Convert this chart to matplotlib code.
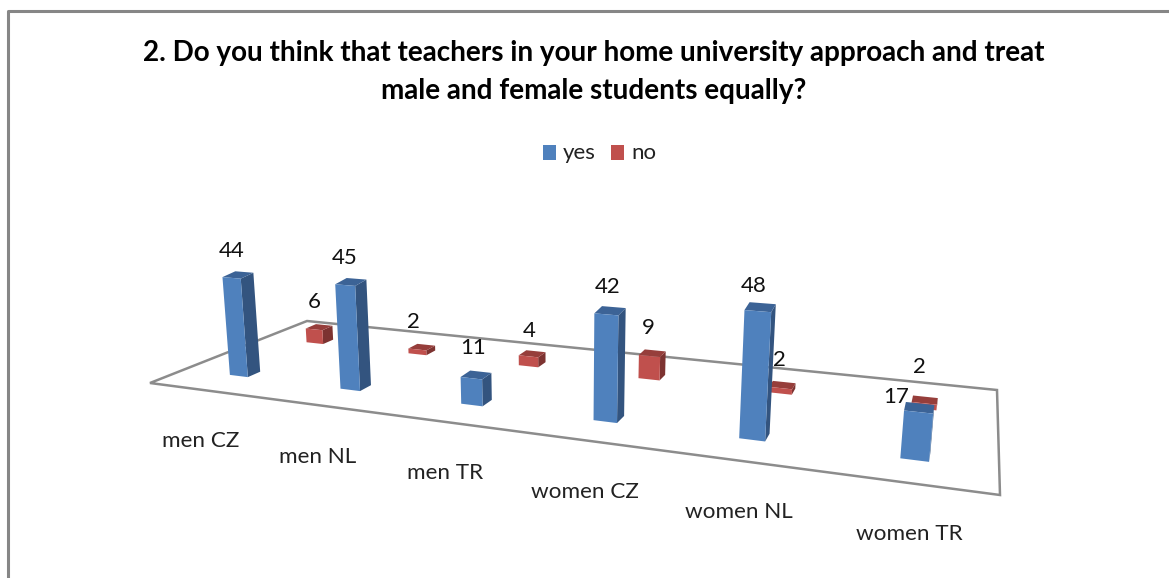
import numpy as np
import matplotlib
matplotlib.use("Agg")
import matplotlib.pyplot as plt
from matplotlib.patches import Polygon

categories = ["men CZ", "men NL", "men TR", "women CZ", "women NL", "women TR"]
yes_values = [44, 45, 11, 42, 48, 17]
no_values = [6, 2, 4, 9, 2, 2]

title_lines = [
    "2. Do you think that teachers in your home university approach and treat",
    "male and female students equally?",
]

BLUE = ("#4f81bd", "#33547f", "#3c6396")
RED = ("#c0504d", "#7d3331", "#963e3b")

# floor corners in picture pixels: front-left, front-right, back-right, back-left
FLOOR = [(150, 383), (1000, 495), (997, 390), (307, 321)]


def floor_transform(corners):
    # homography from the unit square to the floor
    src = [(0, 0), (1, 0), (1, 1), (0, 1)]
    rows = []
    rhs = []
    for (u, v), (x, y) in zip(src, corners):
        rows.append([u, v, 1, 0, 0, 0, -u * x, -v * x])
        rows.append([0, 0, 0, u, v, 1, -u * y, -v * y])
        rhs += [x, y]
    h = np.linalg.solve(np.array(rows, float), np.array(rhs, float))
    return np.append(h, 1).reshape(3, 3)


H = floor_transform(FLOOR)


def project(u, v, value=0):
    x, y, w = H @ np.array([u, v, 1.0])
    x, y = x / w, y / w
    # one value unit grows towards the right, verticals lean outward
    scale = 2.02 + 0.00088 * x
    rise = value * scale
    return x + rise * (x - 560) * 0.00023, y - rise


def draw_bar(ax, u, v, value, colors, du, dv):
    u0, u1 = u - du / 2, u + du / 2
    v0, v1 = v - dv / 2, v + dv / 2
    front = [project(u0, v0), project(u1, v0), project(u1, v0, value), project(u0, v0, value)]
    side = [project(u1, v0), project(u1, v1), project(u1, v1, value), project(u1, v0, value)]
    top = [project(u0, v0, value), project(u1, v0, value), project(u1, v1, value), project(u0, v1, value)]
    for pts, c in zip((side, top, front), (colors[1], colors[2], colors[0])):
        ax.add_patch(Polygon(pts, closed=True, facecolor=c, edgecolor="none", zorder=3 + v * -1))
    return project(u, v, value)


fig = plt.figure(figsize=(11.69, 5.78), dpi=100)
ax = fig.add_axes([0, 0, 1, 1])
ax.set_xlim(0, 1169)
ax.set_ylim(578, 0)
ax.axis("off")

plt.rcParams["font.family"] = ["Lato", "DejaVu Sans"]

# chart frame
ax.plot([8, 8, 1169], [578, 11, 11], color="#868686", lw=2.2, zorder=1)

# floor
ax.add_patch(Polygon(FLOOR, closed=True, facecolor="none", edgecolor="#8c8c8c", lw=1.8, zorder=1))

# title
for line, y in zip(title_lines, (53, 91)):
    ax.text(594, y, line, ha="center", va="center", fontsize=20.1, fontweight="bold", color="black")

# legend
for x, c, label in ((549, BLUE[0], "yes"), (617, RED[0], "no")):
    ax.add_patch(Polygon([(x - 6, 145), (x + 7, 145), (x + 7, 160), (x - 6, 160)], closed=True, facecolor=c, edgecolor="none"))
    ax.text(x + 14, 153, label, ha="left", va="center", fontsize=16, color="#222222")

n = len(categories)
us = [(i + 0.5) / n + 0.003 for i in range(n)]
YES_V, NO_V = 0.225, 0.725
DU, DV = 0.028, 0.075

label_dx_yes = [-6, -6, -3, -2, -7, -23]
label_dy_yes = [-24, -24, -27, -24, -21, -11]
label_dx_no = [-5, -8, -3, -4, -3, -5]
label_dy_no = [-25, -25, -23, -25, -25, -33]

for i in range(n):
    # back row first so the front row covers it
    x, y = draw_bar(ax, us[i], NO_V, no_values[i], RED, DU, DV)
    ax.text(x + label_dx_no[i], y + label_dy_no[i], str(no_values[i]), ha="center", va="center", fontsize=16, color="#111111", zorder=6)
    x, y = draw_bar(ax, us[i], YES_V, yes_values[i], BLUE, DU, DV)
    ax.text(x + label_dx_yes[i], y + label_dy_yes[i], str(yes_values[i]), ha="center", va="center", fontsize=16, color="#111111", zorder=6)
    # axis labels sit below the front row, fanned out to the left
    bx, by = project(us[i], YES_V - DV / 2)
    ax.text(bx + (bx - 1015) * 0.049, by + 62 + 0.0135 * bx, categories[i], ha="center", va="center", fontsize=16.2, color="#222222", zorder=6)

fig.savefig("out.png", dpi=100)
plt.close(fig)
